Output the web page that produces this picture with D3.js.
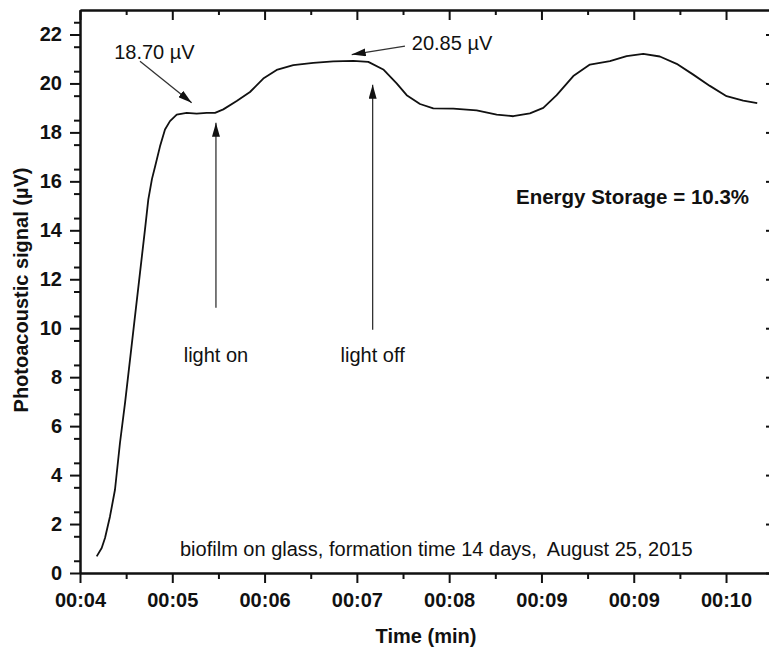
<!DOCTYPE html>
<html>
<head>
<meta charset="utf-8">
<script src="https://cdn.jsdelivr.net/npm/d3@7"></script>
<style>
  body { margin: 0; background: #fff; overflow: hidden; }
  svg { display: block; font-family: "Liberation Sans", Arial, sans-serif; }
</style>
</head>
<body>
<script>
// time axis in tick units (major tick every 1.0, printed labels below)
var timeMin = [4.181, 4.235, 4.271, 4.325, 4.379, 4.433, 4.488, 4.542, 4.596, 4.650,
  4.704, 4.740, 4.780, 4.813, 4.867, 4.921, 4.975, 5.048, 5.156, 5.264,
  5.373, 5.463, 5.553, 5.698, 5.842, 5.986, 6.131, 6.311, 6.528, 6.744,
  6.961, 7.124, 7.286, 7.431, 7.540, 7.684, 7.828, 8.044, 8.298, 8.515,
  8.694, 8.875, 9.020, 9.165, 9.345, 9.525, 9.742, 9.923, 10.103, 10.283,
  10.465, 10.645, 10.825, 11.006, 11.186, 11.338];
var signal = [0.68, 1.02, 1.43, 2.31, 3.40, 5.31, 6.95, 8.72, 10.49, 12.26,
  14.03, 15.25, 16.10, 16.60, 17.43, 18.12, 18.46, 18.73, 18.80, 18.77,
  18.80, 18.80, 18.94, 19.28, 19.65, 20.20, 20.55, 20.75, 20.84, 20.90,
  20.92, 20.88, 20.57, 20.00, 19.52, 19.16, 18.98, 18.97, 18.90, 18.73,
  18.66, 18.78, 19.00, 19.52, 20.30, 20.77, 20.91, 21.12, 21.21, 21.10,
  20.80, 20.36, 19.90, 19.48, 19.30, 19.20];
var xTickValues = [4, 5, 6, 7, 8, 9, 10, 11];
var xTickLabels = ["00:04", "00:05", "00:06", "00:07", "00:08", "00:09", "00:09", "00:10"];
var yTickValues = [0, 2, 4, 6, 8, 10, 12, 14, 16, 18, 20, 22];

// annotation arrows: [tail t, tail value, head t, head value]
var arrows = [
  [4.650, 20.91, 5.210, 19.21],
  [7.521, 21.52, 6.944, 21.18],
  [5.473, 10.84, 5.473, 18.39],
  [7.171, 9.94, 7.171, 19.95]
];
var labels = [
  {text: "18.70 µV", t: 4.37, v: 21.0, anchor: "start"},
  {text: "20.85 µV", t: 7.595, v: 21.38, anchor: "start"},
  {text: "light on", t: 5.473, v: 8.6, anchor: "middle"},
  {text: "light off", t: 7.171, v: 8.6, anchor: "middle"}
];

var margin = {top: 10, right: -4, bottom: 76, left: 80},
    W = 769, H = 649,
    width = W - margin.left - margin.right,
    height = H - margin.top - margin.bottom;

var x = d3.scaleLinear().domain([4, 4 + width / 92.29]).range([0, width]);
var y = d3.scaleLinear().domain([0, 23]).range([height, 0]);

var svg = d3.select("body").append("svg")
    .attr("width", W)
    .attr("height", H)
  .append("g")
    .attr("transform", "translate(" + margin.left + "," + margin.top + ")");

svg.append("defs").append("marker")
    .attr("id", "head")
    .attr("viewBox", "0 0 14 8")
    .attr("refX", 14).attr("refY", 4)
    .attr("markerWidth", 14).attr("markerHeight", 8)
    .attr("markerUnits", "userSpaceOnUse")
    .attr("orient", "auto")
  .append("path")
    .attr("d", "M0,0 L14,4 L0,8 Z")
    .attr("fill", "#111");

// minor ticks
var yMinor = d3.range(0.5, 23, 1);
var xMinor = d3.range(4.5, 11.4, 1);

function styleAxis(g) {
  g.select(".domain").attr("stroke", "#111").attr("stroke-width", 2);
  g.selectAll(".tick line").attr("stroke", "#111").attr("stroke-width", 2);
}

// left
svg.append("g").call(d3.axisLeft(y).tickValues(yMinor).tickSize(6).tickSizeOuter(0).tickFormat(""))
  .call(styleAxis);
svg.append("g").call(d3.axisLeft(y).tickValues(yTickValues).tickSize(10).tickSizeOuter(0).tickPadding(8))
  .call(styleAxis)
  .selectAll("text").attr("font-size", 20).attr("font-weight", "bold").attr("fill", "#111")
  .attr("font-family", "Liberation Sans, Arial, sans-serif");

// bottom
svg.append("g").attr("transform", "translate(0," + height + ")")
  .call(d3.axisBottom(x).tickValues(xMinor).tickSize(6).tickSizeOuter(0).tickFormat(""))
  .call(styleAxis);
svg.append("g").attr("transform", "translate(0," + height + ")")
  .call(d3.axisBottom(x).tickValues(xTickValues).tickSize(10).tickSizeOuter(0).tickPadding(10)
    .tickFormat(function(d, i) { return xTickLabels[i]; }))
  .call(styleAxis)
  .selectAll("text").attr("font-size", 20).attr("font-weight", "bold").attr("fill", "#111")
  .attr("font-family", "Liberation Sans, Arial, sans-serif");

// top (ticks inward)
svg.append("g").call(d3.axisTop(x).tickValues(xMinor).tickSize(-5).tickSizeOuter(0).tickFormat(""))
  .call(styleAxis);
svg.append("g").call(d3.axisTop(x).tickValues(xTickValues).tickSize(-10).tickSizeOuter(0).tickFormat(""))
  .call(styleAxis);

// right (the frame line itself falls past the page edge, only tick stubs show)
svg.append("g").attr("transform", "translate(" + width + ",0)")
  .call(d3.axisRight(y).tickValues(yTickValues).tickSize(-7).tickSizeOuter(0).tickFormat(""))
  .call(styleAxis);

// the signal
var pts = timeMin.map(function(t, i) { return [t, signal[i]]; });
svg.append("path")
    .datum(pts)
    .attr("fill", "none")
    .attr("stroke", "#111")
    .attr("stroke-width", 1.8)
    .attr("stroke-linejoin", "round")
    .attr("d", d3.line()
      .x(function(d) { return x(d[0]); })
      .y(function(d) { return y(d[1]); }));

// arrows
svg.selectAll(".arrow")
    .data(arrows)
  .enter().append("line")
    .attr("class", "arrow")
    .attr("x1", function(d) { return x(d[0]); })
    .attr("y1", function(d) { return y(d[1]); })
    .attr("x2", function(d) { return x(d[2]); })
    .attr("y2", function(d) { return y(d[3]); })
    .attr("stroke", "#333")
    .attr("stroke-width", 1.3)
    .attr("marker-end", "url(#head)");

svg.selectAll(".lbl")
    .data(labels)
  .enter().append("text")
    .attr("class", "lbl")
    .attr("x", function(d) { return x(d.t); })
    .attr("y", function(d) { return y(d.v); })
    .attr("text-anchor", function(d) { return d.anchor; })
    .attr("font-size", 20)
    .attr("fill", "#111")
    .text(function(d) { return d.text; });

svg.append("text")
    .attr("x", 436)
    .attr("y", 194)
    .attr("font-size", 20.5)
    .attr("font-weight", "bold")
    .attr("fill", "#111")
    .text("Energy Storage = 10.3%");

svg.append("text")
    .attr("x", 100)
    .attr("y", height - 17)
    .attr("font-size", 20)
    .attr("fill", "#111")
    .attr("xml:space", "preserve")
    .text("biofilm on glass, formation time 14 days,  August 25, 2015");

// axis titles
svg.append("text")
    .attr("x", 346)
    .attr("y", height + 70)
    .attr("text-anchor", "middle")
    .attr("font-size", 20)
    .attr("font-weight", "bold")
    .attr("fill", "#111")
    .text("Time (min)");

svg.append("text")
    .attr("transform", "translate(" + (28 - margin.left) + "," + (290 - margin.top) + ") rotate(-90)")
    .attr("text-anchor", "middle")
    .attr("font-size", 20)
    .attr("font-weight", "bold")
    .attr("fill", "#111")
    .text("Photoacoustic signal (µV)");
</script>
</body>
</html>
